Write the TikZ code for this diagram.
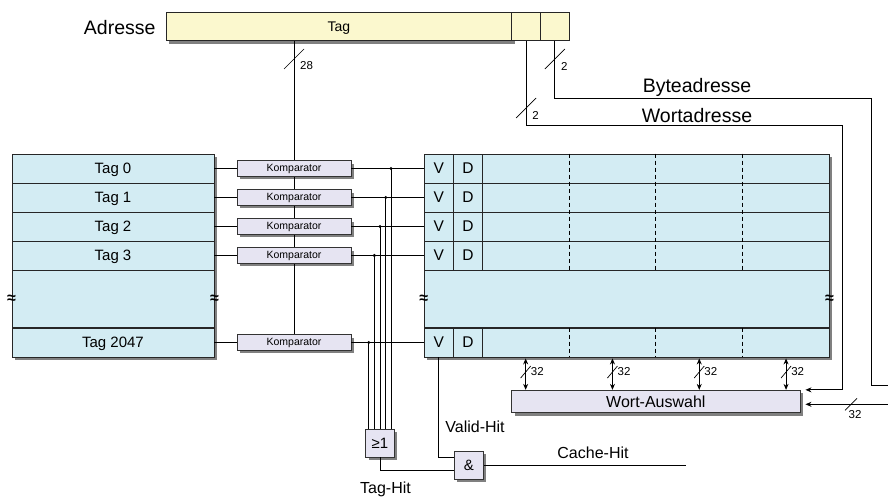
\documentclass[tikz,border=0pt]{standalone}
\usepackage{fontspec}
\setmainfont{Liberation Sans}
\usetikzlibrary{shadows,arrows.meta,calc,positioning}

\definecolor{adrgelb}{HTML}{FBF8CE}
\definecolor{speicherblau}{HTML}{D3ECF3}
\definecolor{kompflieder}{HTML}{E6E4F2}

\tikzset{
  schatten/.style={drop shadow={shadow xshift=3pt,shadow yshift=-3pt,fill=black!50,opacity=1}},
  zelle/.style={draw=black!85,line width=0.9pt,fill=speicherblau,minimum height=29pt,
    text height=1.2em,text depth=0.25em,font=\fontsize{15}{18}\selectfont},
  adrfeld/.style={zelle,fill=adrgelb,minimum height=28.6pt,font=\fontsize{14}{17}\selectfont},
  komp/.style={draw=black!80,line width=0.9pt,fill=kompflieder,schatten,minimum width=114pt,
    minimum height=15.7pt,font=\fontsize{10.5}{12}\selectfont},
  gatter/.style={draw=black!80,line width=0.9pt,fill=kompflieder,schatten,minimum width=28.6pt,
    minimum height=28pt,font=\fontsize{15}{18}\selectfont},
  gross/.style={anchor=base,font=\fontsize{19.5}{22}\selectfont},
  beschr/.style={anchor=base,font=\fontsize{16}{19}\selectfont},
  zahl/.style={font=\fontsize{11.5}{13}\selectfont},
  bruch/.style={font=\bfseries\fontsize{16}{16}\selectfont},
  leitung/.style={line width=0.8pt},
  strich/.style={line width=0.7pt},
  pfeil/.style={line width=0.8pt,-{Stealth[length=6pt,width=5pt]}},
  doppelpfeil/.style={line width=0.8pt,{Stealth[length=6pt,width=5pt]}-{Stealth[length=6pt,width=5pt]}},
  pics/bus/.style={code={\draw[strich] (-10,10) -- (10,-10); \node[zahl,anchor=west] at (6,7) {#1};}},
  pics/kbus/.style={code={\draw[strich] (-5,6) -- (5,-6); \node[zahl,anchor=west] at (5,0) {#1};}},
  pics/ubus/.style={code={\draw[strich] (-6,6) -- (6,-6); \node[zahl] at (4,10) {#1};}}
}

\begin{document}
\begin{tikzpicture}[x=1pt,y=-1pt,every node/.style={inner sep=0pt}]
\useasboundingbox (0,0) rectangle (888,497);

\node[gross] (adresse) at (119.7,35) {Adresse};
\node[adrfeld,schatten,minimum width=345.7pt] (tagf) at (338.85,26.3) {Tag};
\node[adrfeld,minimum width=29pt] (wortf) at (526.2,26.3) {};
\node[adrfeld,minimum width=28.3pt] (bytef) at (554.85,26.3) {};

\node[zelle,schatten,minimum width=202pt,minimum height=203pt] (tagspeicher) at (113,255.5) {};
\node[zelle,schatten,minimum width=404.7pt,minimum height=203pt] (datenspeicher) at (626.65,255.5) {};
\node[zelle,minimum width=202pt,minimum height=57.7pt] (tagluecke) at (113,299) {};
\node[zelle,minimum width=404.7pt,minimum height=57.7pt] (datluecke) at (626.65,299) {};
\foreach \p in {tagluecke.west,tagluecke.east,datluecke.west,datluecke.east}
  \node[bruch] at (\p) {≈};

\foreach \n/\y in {0/168.5,1/197.5,2/226.5,3/255.5,2047/342.5}{
  \node[zelle,minimum width=202pt] (tag\n) at (113,\y) {Tag \n};
  \node[komp] (komp\n) at (294,\y) {Komparator};
  \node[zelle,minimum width=29pt,font=\fontsize{15.5}{18}\selectfont] (v\n) at (438.8,\y) {V};
  \node[zelle,minimum width=29.4pt,font=\fontsize{15.5}{18}\selectfont] (d\n) at (468,\y) {D};
  \node[zelle,minimum width=346.3pt] (w\n) at (655.85,\y) {};
  \draw[leitung] (tag\n.east) -- (komp\n.west);
}
\foreach \f in {0.25,0.5,0.75}{
  \draw[leitung,dash pattern=on 4pt off 3pt] ($(w0.north west)!\f!(w0.north east)$) -- ($(w3.south west)!\f!(w3.south east)$);
  \draw[leitung,dash pattern=on 4pt off 3pt] ($(w2047.north west)!\f!(w2047.north east)$) -- ($(w2047.south west)!\f!(w2047.south east)$);
}

\draw[leitung] (tagf.south -| komp0.north) -- (komp0.north);
\foreach \a/\b in {0/1,1/2,2/3,3/2047}
  \draw[leitung] (komp\a.south) -- (komp\b.north);
\pic at (294,59) {bus=28};

\node[gatter] (oder) at (380,443) {≥1};
\node[gatter,minimum width=29pt,minimum height=28.3pt] (und) at (468.8,465.2) {\&};
\node[komp,minimum width=288.3pt,minimum height=22.4pt,font=\fontsize{16}{19}\selectfont] (wa) at (655.85,401.5) {Wort-Auswahl};

\foreach \n/\x in {0/391,1/385.7,2/380,3/374.3,2047/368.7}{
  \coordinate (s\n) at (\x,0);
  \draw[leitung] (komp\n.east) -- (v\n.west);
  \fill (komp\n.east -| s\n) circle (1.7);
  \draw[leitung] (komp\n.east -| s\n) -- (s\n |- oder.north);
}

\draw[leitung] (v2047.south) |- ([yshift=8pt]und.west);
\draw[leitung] (oder.south) |- ([yshift=-5pt]und.west);
\coordinate (cacheaus) at (686,465.2);
\draw[leitung] (und.east) -- (cacheaus);
\node[beschr] (validhit) at (475,432.7) {Valid-Hit};
\node[beschr] (cachehit) at (593,458.3) {Cache-Hit};
\node[beschr] (taghit) at (385.5,493) {Tag-Hit};

\foreach \f in {0.125,0.375,0.625,0.875}{
  \coordinate (oben) at ($(w2047.south west)!\f!(w2047.south east)$);
  \draw[doppelpfeil] ([yshift=-1pt]oben) -- (oben |- wa.north);
  \pic at ($(oben)!0.45!(oben |- wa.north)$) {kbus=32};
}

\coordinate (wortknick) at (842.7,125.7);
\draw[pfeil] (wortf.south) |- (wortknick) |- ([xshift=5pt]wa.north east);
\pic at (526.2,108) {bus=2};
\node[gross] (wortadr) at (697,122.3) {Wortadresse};

\coordinate (byteknick) at (871.7,98.3);
\coordinate (byteaus) at (888,385);
\draw[leitung] (bytef.south) |- (byteknick) |- (byteaus);
\pic at (554.9,59) {bus=2};
\node[gross] (byteadr) at (697,92.3) {Byteadresse};

\coordinate (bytein) at (888,404.3);
\draw[pfeil] (bytein) -- ([xshift=5pt]bytein -| wa.east);
\pic at (851,404.3) {ubus=32};
\end{tikzpicture}
\end{document}
